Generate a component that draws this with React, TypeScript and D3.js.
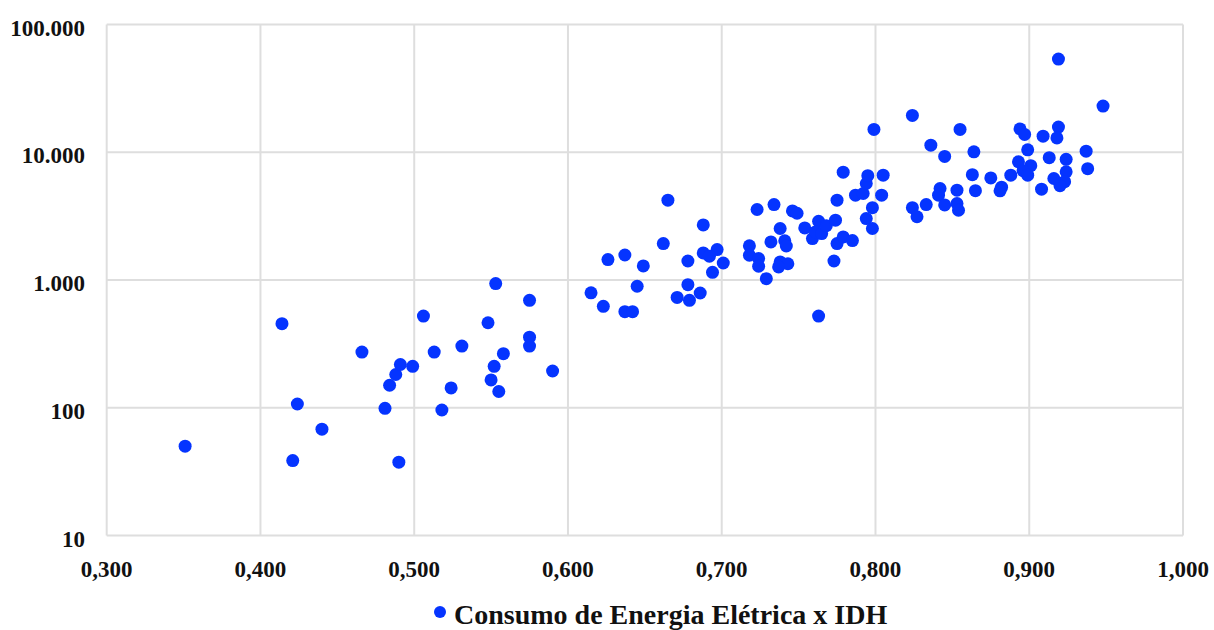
import React from 'react';
import * as d3 from 'd3';

// IDH (x) e consumo de energia elétrica (y, escala log)
const idh = [
  0.351, 0.414, 0.421, 0.424, 0.44, 0.466, 0.481, 0.484, 0.488, 0.491,
  0.499, 0.49, 0.506, 0.513, 0.518, 0.524, 0.531, 0.548, 0.55, 0.552,
  0.555, 0.553, 0.558, 0.575, 0.575, 0.575, 0.59, 0.615, 0.623, 0.626,
  0.637, 0.637, 0.642, 0.645, 0.649, 0.662, 0.665, 0.671, 0.678, 0.678,
  0.679, 0.686, 0.688, 0.688, 0.697, 0.692, 0.701, 0.694, 0.718, 0.718,
  0.723, 0.724, 0.724, 0.729, 0.732, 0.734, 0.738, 0.741, 0.742, 0.738,
  0.743, 0.737, 0.746, 0.749, 0.754, 0.759, 0.763, 0.761, 0.765, 0.768,
  0.774, 0.775, 0.779, 0.785, 0.773, 0.763, 0.775, 0.779, 0.787, 0.792,
  0.794, 0.795, 0.805, 0.804, 0.798, 0.794, 0.798, 0.799, 0.824, 0.836,
  0.845, 0.855, 0.864, 0.824, 0.833, 0.827, 0.842, 0.841, 0.853, 0.845,
  0.853, 0.854, 0.863, 0.875, 0.865, 0.882, 0.881, 0.888, 0.893, 0.901,
  0.896, 0.899, 0.899, 0.894, 0.897, 0.909, 0.919, 0.918, 0.913, 0.924,
  0.908, 0.924, 0.923, 0.92, 0.916, 0.937, 0.938, 0.919, 0.948,
];
const consumo = [
  50, 455, 38.6, 107, 68, 273, 99, 150, 182, 218,
  211, 37.5, 522, 273, 96, 143, 304, 463, 165, 211,
  134, 937, 265, 357, 304, 693, 194, 794, 622, 1445,
  1570, 565, 565, 893, 1288, 1928, 4215, 731, 1409, 920,
  693, 791, 2698, 1629, 1730, 1534, 1359, 1149, 1853, 1562,
  3564, 1471, 1281, 1025, 1986, 3897, 2529, 2029, 1846, 1384,
  1340, 1265, 3474, 3332, 2557, 2110, 2884, 2378, 2310, 2660,
  2938, 1928, 2173, 2036, 1409, 522, 4215, 6982, 4610, 4755,
  5694, 6557, 6616, 4610, 3680, 3028, 2529, 15090, 19420, 11370,
  9270, 15090, 10070, 3680, 3897, 3128, 5203, 4610, 5047, 3869,
  3969, 3517, 6670, 6300, 5000, 5326, 4985, 6616, 8410, 7850,
  7178, 6616, 10440, 15230, 13790, 13370, 15730, 12950, 9075, 8796,
  5141, 7022, 5886, 5471, 6233, 10200, 7437, 53660, 22980,
];

const xTicks = [0.3, 0.4, 0.5, 0.6, 0.7, 0.8, 0.9, 1.0];
const yTicks = [10, 100, 1000, 10000, 100000];
const legendLabel = 'Consumo de Energia Elétrica x IDH';

const W = 1214;
const H = 630;
const margin = { left: 106.7, right: 31, top: 24.5, bottom: 94.5 };
const blue = '#0534ff';
const grid = '#dedede';
const font = '"Liberation Serif", "Times New Roman", serif';

const fmtX = (v: number) => v.toFixed(3).replace('.', ',');
const fmtY = (v: number) => d3.format(',')(v).replace(/,/g, '.');

export default function App() {
  const x = d3.scaleLinear().domain([0.3, 1.0]).range([margin.left, W - margin.right]);
  const y = d3.scaleLog().domain([10, 100000]).range([H - margin.bottom, margin.top]);
  const pts = idh.map((v, i) => ({ x: v, y: consumo[i] }));

  return (
    <svg
      width={W}
      height={H}
      style={{ position: 'absolute', left: 0, top: 0, background: '#fff' }}
      fontFamily={font}
    >
      <g>
        {xTicks.map((t) => (
          <line key={'vx' + t} x1={x(t)} x2={x(t)} y1={y(100000)} y2={y(10)} stroke={grid} strokeWidth={2} />
        ))}
        {yTicks.map((t) => (
          <line key={'hy' + t} x1={x(0.3)} x2={x(1.0)} y1={y(t)} y2={y(t)} stroke={grid} strokeWidth={2} />
        ))}
      </g>
      <g>
        {yTicks.map((t) => (
          <text
            key={'ly' + t}
            x={85}
            y={y(t) + 11}
            textAnchor="end"
            fontSize={23}
            fontWeight="bold"
            fill="#111"
          >
            {fmtY(t)}
          </text>
        ))}
        {xTicks.map((t) => (
          <text
            key={'lx' + t}
            x={x(t)}
            y={577}
            textAnchor="middle"
            fontSize={23}
            fontWeight="bold"
            fill="#111"
          >
            {fmtX(t)}
          </text>
        ))}
      </g>
      <g>
        {pts.map((p, i) => (
          <circle key={i} cx={x(p.x)} cy={y(p.y)} r={6.5} fill={blue} />
        ))}
      </g>
      <g>
        <circle cx={440} cy={612} r={6} fill={blue} />
        <text x={454} y={624} fontSize={28} fontWeight="bold" fill="#111">
          {legendLabel}
        </text>
      </g>
    </svg>
  );
}
